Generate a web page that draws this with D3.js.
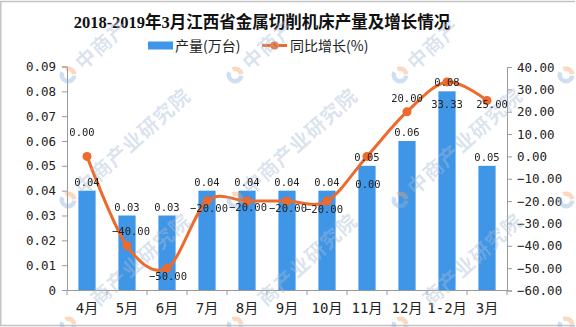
<!DOCTYPE html>
<html>
<head>
<meta charset="utf-8">
<script src="https://cdn.jsdelivr.net/npm/d3@7"></script>
<style>
  html, body { margin: 0; padding: 0; background: #fff; }
  svg { display: block; }
</style>
</head>
<body>
<svg id="chart" width="576" height="327"></svg>
<script>
// 2018-2019年3月江西省金属切削机床产量及增长情况
const categories = ["4月", "5月", "6月", "7月", "8月", "9月", "10月", "11月", "12月", "1-2月", "3月"];
const output = [0.04, 0.03, 0.03, 0.04, 0.04, 0.04, 0.04, 0.05, 0.06, 0.08, 0.05];      // 产量(万台)
const growth = [0.00, -40.00, -50.00, -20.00, -20.00, -20.00, -20.00, 0.00, 20.00, 33.33, 25.00]; // 同比增长(%)
const leftTicks = [0, 0.01, 0.02, 0.03, 0.04, 0.05, 0.06, 0.07, 0.08, 0.09];
const rightTicks = [-60, -50, -40, -30, -20, -10, 0, 10, 20, 30, 40];

// label nudges for the growth values, [dx, dy] in px from each point
const growthLabelOffset = [[-5, -24], [4, -14], [1, 8], [2, 7], [1, 6], [1, 7], [-3, 8], [1, 28], [0, -13], [0, 22], [5, 4]];

const BLUE = "#3f95e6";
const ORANGE = "#ee6a2c";
const AXIS = "#9a9a9a";
const MONO = "'DejaVu Sans Mono', 'Noto Sans CJK SC', monospace";
const CJK = "'Noto Sans CJK SC', sans-serif";
const W = 576, H = 327;

const svg = d3.select("#chart");

// frame
svg.append("path")
  .attr("d", "M575,1.5 H0.75 V325.5 H575")
  .attr("fill", "none").attr("stroke", "#c4c4c4").attr("stroke-width", 1.5);

const plot = { left: 67, right: 507, top: 66.5, bottom: 290 };

const x = d3.scaleBand().domain(categories).range([plot.left, plot.right]).padding(0);
const yL = d3.scaleLinear().domain([0, 0.09]).range([plot.bottom, plot.top]);
const yR = d3.scaleLinear().domain([-60, 40]).range([plot.bottom + 0.5, plot.top + 0.5]);
const barW = x.bandwidth() * 0.43;

// title
svg.append("text")
  .attr("x", 262).attr("y", 28)
  .attr("text-anchor", "middle")
  .style("font-family", "'Liberation Serif', 'Noto Sans CJK SC', serif")
  .style("font-weight", "bold").style("font-size", "16.5px").attr("fill", "#111")
  .text("2018-2019年3月江西省金属切削机床产量及增长情况");

// legend
const lg = svg.append("g");
lg.append("rect").attr("x", 148).attr("y", 41.5).attr("width", 25).attr("height", 8).attr("fill", BLUE);
lg.append("text").attr("x", 175).attr("y", 50.5)
  .style("font-family", CJK).style("font-size", "14px").attr("fill", "#222").text("产量(万台)");
lg.append("line").attr("x1", 262).attr("x2", 287).attr("y1", 45.5).attr("y2", 45.5)
  .attr("stroke", ORANGE).attr("stroke-width", 3);
lg.append("circle").attr("cx", 274.5).attr("cy", 45.5).attr("r", 4).attr("fill", ORANGE);
lg.append("text").attr("x", 290).attr("y", 50.5)
  .style("font-family", CJK).style("font-size", "14px").attr("fill", "#222").text("同比增长(%)");

// bars
svg.append("g").selectAll("rect").data(output).join("rect")
  .attr("x", (d, i) => x(categories[i]) + (x.bandwidth() - barW) / 2)
  .attr("y", d => yL(d))
  .attr("width", barW)
  .attr("height", d => yL(0) - yL(d))
  .attr("fill", BLUE);

// axes
const styleAxis = g => {
  g.select(".domain").attr("stroke", AXIS);
  g.selectAll(".tick line").attr("stroke", AXIS);
  g.selectAll(".tick text").attr("fill", "#222").style("font-family", MONO).style("font-size", "12.5px");
};

svg.append("g").attr("transform", `translate(${plot.left},0)`)
  .call(d3.axisLeft(yL).tickValues(leftTicks).tickSize(5).tickPadding(6)
    .tickFormat(d => d === 0 ? "0" : d3.format(".2f")(d)))
  .call(styleAxis);

svg.append("g").attr("transform", `translate(${plot.right},0)`)
  .call(d3.axisRight(yR).tickValues(rightTicks).tickSize(5).tickPadding(5)
    .tickFormat(d3.format(".2f")))
  .call(styleAxis);

const xAxis = svg.append("g").attr("transform", `translate(0,${plot.bottom})`)
  .call(d3.axisBottom(x).tickSize(0).tickPadding(13))
  .call(styleAxis);
xAxis.selectAll(".tick text").style("font-size", "14px");
xAxis.selectAll(".bound").data(d3.range(categories.length + 1)).join("line")
  .attr("class", "bound")
  .attr("x1", i => plot.left + i * x.step()).attr("x2", i => plot.left + i * x.step())
  .attr("y1", 0).attr("y2", 5).attr("stroke", AXIS);

// growth line
const pts = growth.map((v, i) => [x(categories[i]) + x.bandwidth() / 2, yR(v)]);
svg.append("path")
  .attr("d", d3.line().curve(d3.curveCardinal.tension(0))(pts))
  .attr("fill", "none").attr("stroke", ORANGE).attr("stroke-width", 3);
svg.append("g").selectAll("circle").data(pts).join("circle")
  .attr("cx", d => d[0]).attr("cy", d => d[1]).attr("r", 4.5).attr("fill", ORANGE);

// watermark: logo plus the name laid out glyph by glyph along a diagonal;
// glyphs that would fall past the edge of the canvas are left out
const wm = svg.append("g").attr("pointer-events", "none").attr("opacity", 0.42);
const wmCols = [-98, 68, 235, 400, 566];
const wmRows = [75, 200, 325];
const wmName = Array.from("中商产业研究院");
const ang = -42 * Math.PI / 180;
const ux = Math.cos(ang), uy = Math.sin(ang);
const arc = d3.arc().innerRadius(4).outerRadius(8.5);
const edge = 21;
wmCols.forEach(cx => wmRows.forEach(cy => {
  const logo = wm.append("g").attr("transform", `translate(${cx},${cy}) rotate(-42)`);
  logo.append("path").attr("d", arc({ startAngle: 0.3, endAngle: 2.2 })).attr("fill", "#f2a36b");
  logo.append("path").attr("d", arc({ startAngle: 2.4, endAngle: 5.9 })).attr("fill", "#8fb3dc");
  wmName.forEach((ch, i) => {
    const s = 24 + 21 * i;
    const px = cx + ux * s, py = cy + uy * s;
    if (px < edge || px > W - edge || py < edge || py > H - edge) return;
    wm.append("text")
      .attr("transform", `translate(${px},${py}) rotate(-42)`)
      .attr("text-anchor", "middle").attr("dy", "0.36em")
      .style("font-family", CJK).style("font-weight", "bold").style("font-size", "20px")
      .attr("fill", "#a9bdd6").text(ch);
  });
}));

// value labels
svg.append("g").selectAll("text").data(output).join("text")
  .attr("x", (d, i) => x(categories[i]) + x.bandwidth() / 2)
  .attr("y", d => yL(d) - 5)
  .attr("text-anchor", "middle")
  .style("font-family", MONO).style("font-size", "10.5px").attr("fill", "#222")
  .text(d => d3.format(".2f")(d));

svg.append("g").selectAll("text").data(growth).join("text")
  .attr("x", (d, i) => pts[i][0] + growthLabelOffset[i][0])
  .attr("y", (d, i) => pts[i][1] + growthLabelOffset[i][1])
  .attr("dy", "0.35em")
  .attr("text-anchor", "middle")
  .style("font-family", MONO).style("font-size", "10.5px").attr("fill", "#222")
  .text(d => d3.format(".2f")(d));
</script>
</body>
</html>
